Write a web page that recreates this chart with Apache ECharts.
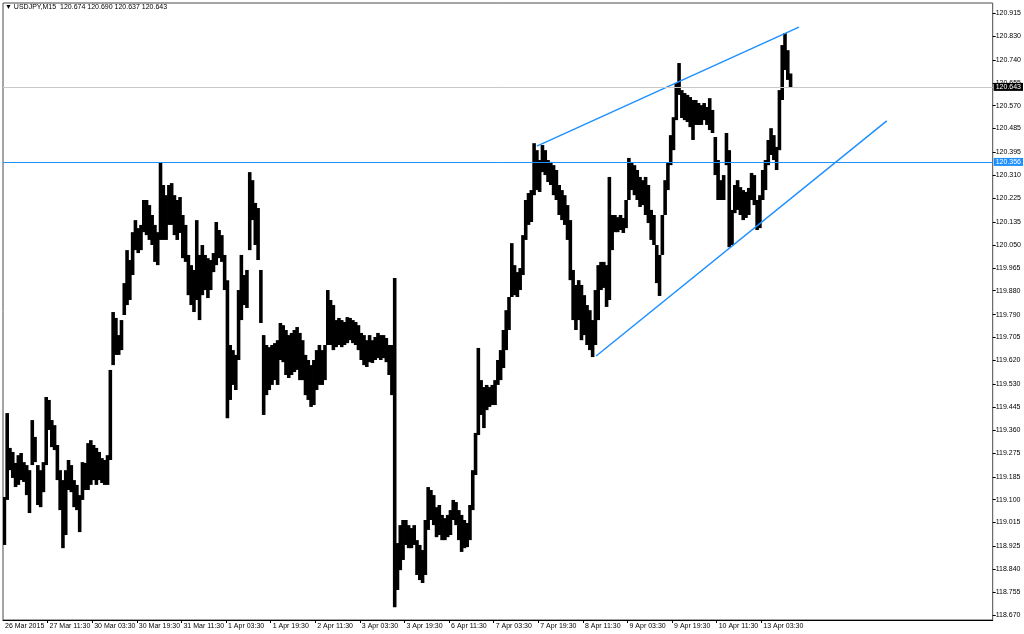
<!DOCTYPE html>
<html><head><meta charset="utf-8">
<script src="https://cdn.jsdelivr.net/npm/echarts@6/dist/echarts.min.js"></script>
<style>html,body{margin:0;padding:0;background:#fff}#c{width:1024px;height:634px}</style>
</head><body><div id="c"></div>
<script>
// ---- data (USDJPY M15, aggregated per hour = 4 bars per column) ----
const titleText = 'USDJPY,M15  120.674 120.690 120.637 120.643';
const barsPerColumn = 4;
const highs = [
119.110,119.423,119.293,119.278,119.237,119.266,119.274,119.240,119.229,119.210,
119.397,119.334,119.229,119.210,119.240,119.483,119.472,119.397,119.378,119.304,
119.210,119.173,119.210,119.248,119.229,119.173,119.155,119.117,119.240,119.237,
119.311,119.322,119.304,119.293,119.278,119.255,119.248,119.266,119.584,119.800,
119.778,119.714,119.770,119.908,120.031,119.994,120.098,120.143,120.113,120.125,
120.218,120.218,120.199,120.162,120.125,120.098,120.356,120.274,120.236,120.274,
120.281,120.236,120.218,120.229,120.162,120.125,120.013,119.975,119.957,120.143,
120.013,120.050,120.013,120.001,119.994,120.020,120.136,120.106,120.087,120.013,
119.919,119.677,119.658,119.640,119.882,120.013,119.938,119.957,120.322,120.292,
120.207,120.188,119.957,119.714,119.677,119.669,119.677,119.684,119.695,119.759,
119.751,119.733,119.714,119.722,119.733,119.744,119.722,119.695,119.640,119.621,
119.602,119.621,119.658,119.677,119.658,119.677,119.882,119.845,119.826,119.770,
119.778,119.770,119.763,119.781,119.778,119.770,119.763,119.751,119.722,119.714,
119.695,119.714,119.695,119.707,119.722,119.714,119.714,119.703,119.677,119.677,
119.927,118.938,119.005,119.024,119.024,119.005,118.994,119.005,118.949,118.931,
118.912,119.024,119.147,119.136,119.117,119.072,119.080,119.043,119.031,119.043,
119.061,119.099,119.091,119.061,119.043,119.024,119.013,119.080,119.210,119.349,
119.666,119.546,119.520,119.528,119.520,119.528,119.546,119.621,119.658,119.733,
119.807,119.856,120.057,119.975,119.949,119.964,120.087,120.218,120.244,120.255,
120.430,120.404,120.367,120.423,120.404,120.367,120.360,120.348,120.330,120.274,
120.255,120.236,120.199,120.143,119.957,119.901,119.919,119.901,119.863,119.826,
119.807,119.770,119.882,119.975,119.987,119.987,119.975,120.304,120.162,120.162,
120.154,120.162,120.151,120.218,120.375,120.356,120.348,120.330,120.304,120.292,
120.304,120.274,120.181,120.162,120.050,120.013,120.162,120.292,120.356,120.460,
120.527,120.654,120.729,120.628,120.617,120.610,120.602,120.591,120.591,120.580,
120.572,120.580,120.565,120.598,120.554,120.453,120.367,120.292,120.311,120.468,
120.404,120.181,120.274,120.292,120.266,120.255,120.248,120.263,120.319,120.311,
120.218,120.236,120.330,120.367,120.442,120.486,120.460,120.416,120.628,120.796,
120.841,120.777,120.690
];
const lows = [
118.931,119.099,119.210,119.181,119.147,119.155,119.173,119.166,119.117,119.050,
119.229,119.240,119.080,119.072,119.128,119.229,119.360,119.296,119.285,119.173,
119.061,118.919,118.968,119.136,119.128,119.072,119.061,118.979,119.099,119.136,
119.136,119.155,119.173,119.155,119.173,119.162,119.155,119.155,119.248,119.602,
119.640,119.640,119.658,119.789,119.826,119.845,119.938,120.031,120.020,120.031,
120.098,120.087,120.069,120.050,119.987,119.975,120.069,120.069,120.069,120.125,
120.125,120.087,120.069,120.095,120.001,119.987,119.863,119.826,119.800,119.845,
119.770,119.863,119.882,119.852,119.882,119.949,119.975,120.001,119.987,119.882,
119.404,119.472,119.528,119.509,119.621,119.770,119.826,119.815,120.031,120.143,
120.050,119.994,119.759,119.416,119.490,119.509,119.528,119.546,119.528,119.621,
119.613,119.565,119.554,119.565,119.576,119.584,119.546,119.546,119.490,119.472,
119.446,119.453,119.509,119.528,119.528,119.546,119.677,119.677,119.658,119.669,
119.677,119.669,119.677,119.684,119.695,119.684,119.677,119.658,119.621,119.602,
119.595,119.613,119.610,119.621,119.628,119.621,119.628,119.613,119.565,119.490,
118.699,118.763,118.837,118.875,118.931,118.919,118.919,118.931,118.819,118.800,
118.789,118.819,118.987,119.024,119.005,118.960,118.968,118.949,118.949,118.960,
118.968,119.024,119.005,118.949,118.905,118.919,118.923,118.949,119.061,119.192,
119.341,119.416,119.367,119.434,119.446,119.453,119.453,119.528,119.546,119.591,
119.658,119.733,119.856,119.863,119.856,119.882,119.938,120.069,120.125,120.136,
120.236,120.255,120.248,120.322,120.311,120.285,120.274,120.236,120.218,120.162,
120.143,120.125,120.069,119.919,119.770,119.733,119.770,119.695,119.714,119.677,
119.658,119.632,119.677,119.770,119.882,119.890,119.819,119.845,120.031,120.098,
120.098,120.106,120.095,120.113,120.218,120.255,120.236,120.218,120.192,120.199,
120.162,120.132,120.069,120.050,119.908,119.860,120.013,120.162,120.255,120.348,
120.404,120.516,120.610,120.524,120.516,120.509,120.490,120.442,120.498,120.498,
120.498,120.516,120.498,120.479,120.468,120.311,120.218,120.218,120.218,120.348,
120.042,120.050,120.169,120.181,120.162,120.143,120.151,120.162,120.218,120.199,
120.106,120.113,120.218,120.255,120.348,120.386,120.367,120.330,120.404,120.591,
120.703,120.666,120.637
];
const xTickBars = [0,64,128,192,256,320,384,448,512,576,640,704,768,832,896,960,1024,1088];
const xTickLabels = ['26 Mar 2015','27 Mar 11:30','30 Mar 03:30','30 Mar 19:30','31 Mar 11:30','1 Apr 03:30','1 Apr 19:30','2 Apr 11:30','3 Apr 03:30','3 Apr 19:30','6 Apr 11:30','7 Apr 03:30','7 Apr 19:30','8 Apr 11:30','9 Apr 03:30','9 Apr 19:30','10 Apr 11:30','13 Apr 03:30'];
const yTickLabels = ['120.915','120.830','120.740','120.655','120.570','120.485','120.395','120.310','120.225','120.135','120.050','119.965','119.880','119.790','119.705','119.620','119.530','119.445','119.360','119.275','119.185','119.100','119.015','118.925','118.840','118.755','118.670'];
const blueLevel = 120.356;
const bidPrice = 120.643;
const trendUpper = [[766,120.419],[1142,120.863]];
const trendLower = [[851,119.636],[1268,120.513]];
const xMaxBars = 1420;
const yMin = 118.651, yMax = 120.953;

// ---- chart ----
const FONT = '"Liberation Sans", Arial, sans-serif';
const colData = highs.map((h, i) => [i * barsPerColumn, h, lows[i]]);
const chart = echarts.init(document.getElementById('c'), null, {renderer: 'canvas'});
chart.setOption({
  animation: false,
  backgroundColor: '#fff',
  graphic: [{
    type: 'text', left: 5, top: 4,
    style: {text: '\u25BC ' + titleText, font: '7px ' + FONT, fill: '#000'}
  }],
  grid: {left: 3, right: 31, top: 3, bottom: 14, show: true, borderColor: '#4a4a4a', borderWidth: 1, backgroundColor: '#fff'},
  xAxis: {
    type: 'value', min: 0, max: xMaxBars,
    splitLine: {show: false},
    axisLine: {show: true, onZero: false, lineStyle: {color: '#000'}},
    axisTick: {show: true, length: 3, customValues: xTickBars.slice(1), lineStyle: {color: '#000'}},
    axisLabel: {
      customValues: xTickBars, align: 'left', margin: 3, padding: [0, 0, 0, 2],
      color: '#000', fontSize: 7, fontFamily: FONT,
      formatter: v => { const k = xTickBars.indexOf(Math.round(v)); return k >= 0 ? xTickLabels[k] : ''; }
    }
  },
  yAxis: {
    type: 'value', position: 'right', min: yMin, max: yMax, scale: true,
    splitLine: {show: false},
    axisLine: {show: false, onZero: false},
    axisTick: {show: true, length: 3, customValues: yTickLabels.map(Number), lineStyle: {color: '#000'}},
    axisLabel: {
      customValues: yTickLabels.map(Number), margin: 3, color: '#000', fontSize: 7, fontFamily: FONT,
      formatter: v => v.toFixed(3)
    }
  },
  series: [
    {
      type: 'custom', clip: true, data: colData, z: 3,
      renderItem: (params, api) => {
        const x0 = api.value(0), hi = api.value(1), lo = api.value(2);
        const p1 = api.coord([x0, hi]);
        const p2 = api.coord([x0 + barsPerColumn, lo]);
        return {type: 'rect', shape: {x: p1[0] - 0.4, y: p1[1], width: p2[0] - p1[0] + 0.8, height: Math.max(1, p2[1] - p1[1])}, style: {fill: '#000'}};
      }
    },
    {
      type: 'line', data: trendUpper, symbol: 'none', z: 4,
      lineStyle: {color: '#1e90ff', width: 1.5},
      markLine: {
        symbol: 'none', silent: true,
        data: [
          {yAxis: bidPrice, lineStyle: {color: '#c8c8c8', width: 1, type: 'solid'},
           label: {position: 'end', distance: 1, formatter: bidPrice.toFixed(3), color: '#fff', backgroundColor: '#000', padding: [1, 2, 0, 2], fontSize: 7, fontFamily: FONT}},
          {yAxis: blueLevel, lineStyle: {color: '#1e90ff', width: 1, type: 'solid'},
           label: {position: 'end', distance: 1, formatter: blueLevel.toFixed(3), color: '#fff', backgroundColor: '#1e90ff', padding: [1, 2, 0, 2], fontSize: 7, fontFamily: FONT}}
        ]
      }
    },
    {
      type: 'line', data: trendLower, symbol: 'none', z: 4,
      lineStyle: {color: '#1e90ff', width: 1.5}
    }
  ]
});
</script></body></html>
